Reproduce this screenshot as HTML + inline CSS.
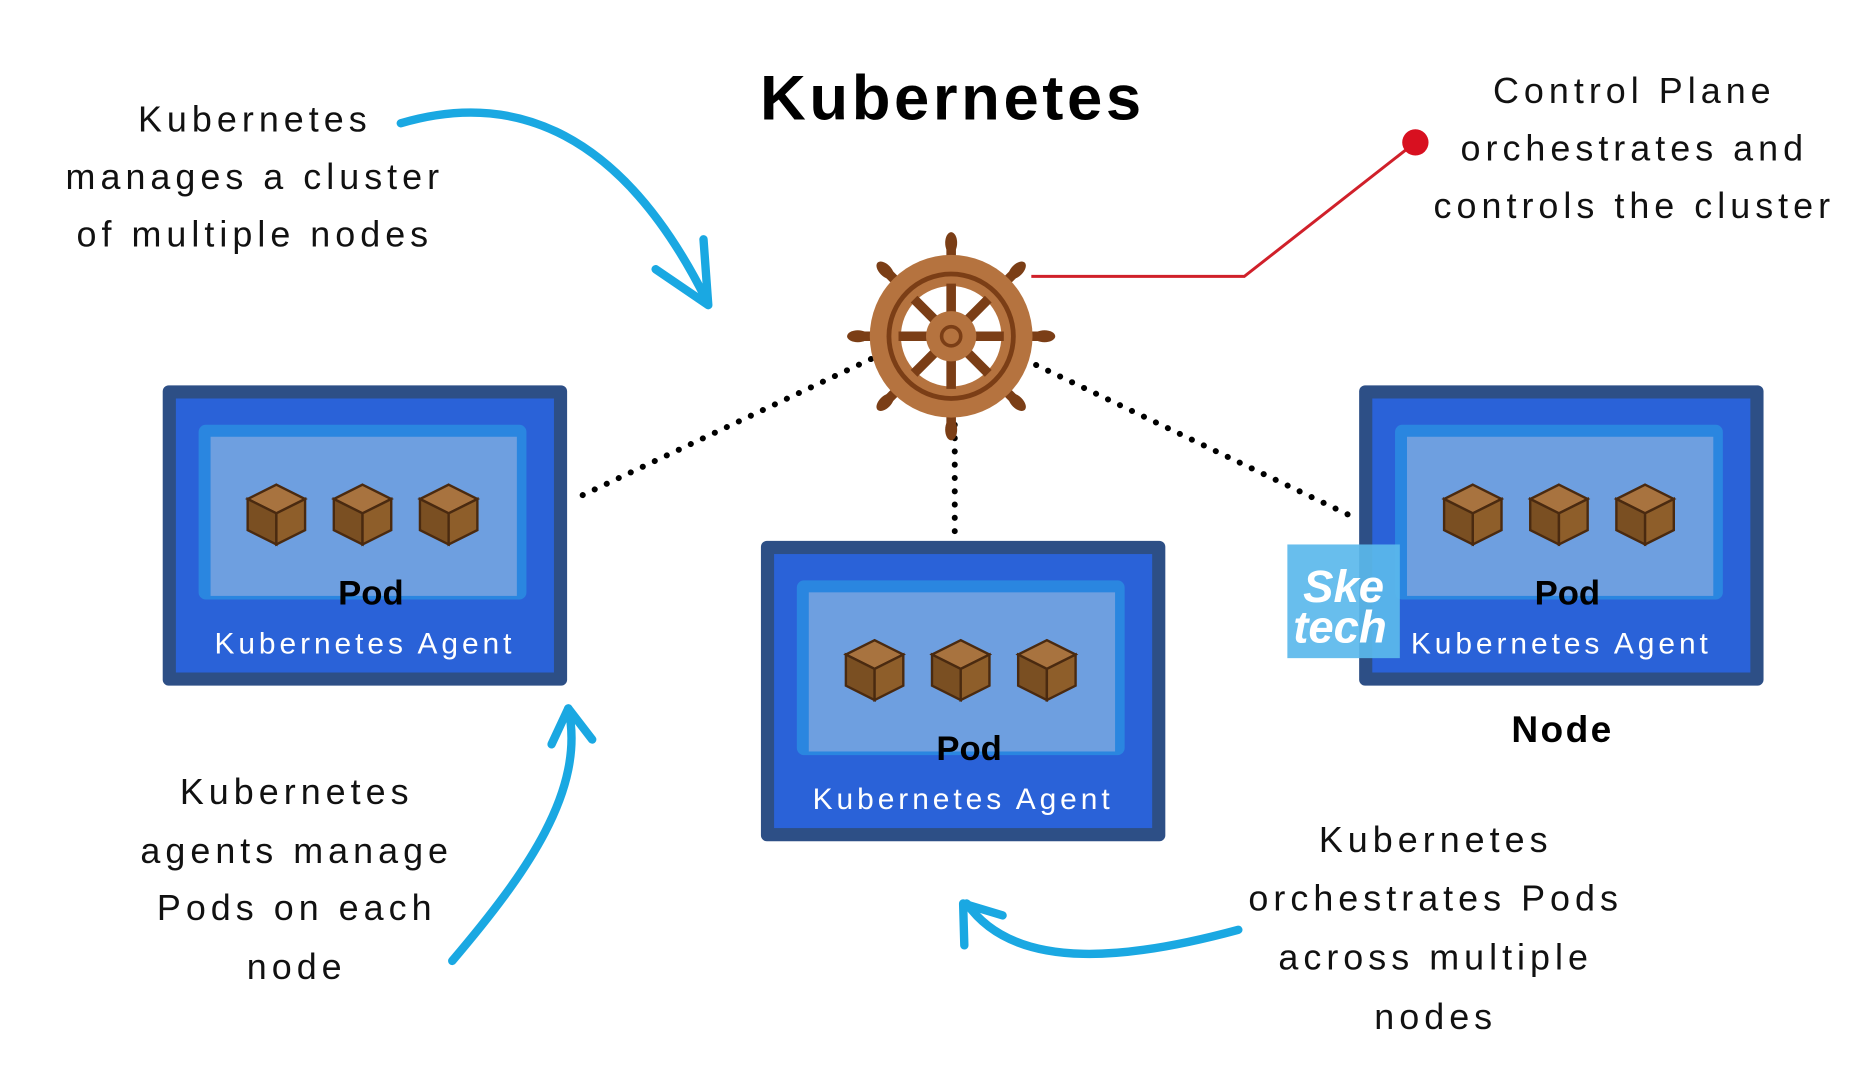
<!DOCTYPE html>
<html><head><meta charset="utf-8"><style>
html,body{margin:0;padding:0;background:#fff;width:1876px;height:1065px;overflow:hidden}
svg{display:block}
text{font-family:"Liberation Sans",sans-serif}
</style></head><body>
<svg width="1876" height="1065" viewBox="0 0 1568 890" preserveAspectRatio="none">
<defs>
<g id="cube">
<polygon points="0,-25 24,-13 0,-1 -24,-13" fill="#a8733f" stroke="#4a2a10" stroke-width="2"/>
<polygon points="-24,-13 0,-1 0,25 -24,13" fill="#7a4f22" stroke="#4a2a10" stroke-width="2"/>
<polygon points="24,-13 0,-1 0,25 24,13" fill="#8e5e2a" stroke="#4a2a10" stroke-width="2"/>
</g>
<g id="node">
<rect x="0" y="0" width="338" height="251" rx="5" fill="#2d4f86"/>
<rect x="11" y="11" width="316" height="229" fill="#2a62d8"/>
<rect x="30" y="33" width="274" height="146" rx="6" fill="#2a86e0"/>
<rect x="40" y="43" width="256" height="133" fill="#6e9fe0"/>
<use href="#cube" x="95" y="108"/>
<use href="#cube" x="167" y="108"/>
<use href="#cube" x="239" y="108"/>
<text x="174" y="183" font-size="29" font-weight="bold" text-anchor="middle" fill="#000">Pod</text>
<text x="169" y="224" font-size="25" text-anchor="middle" fill="#fff" letter-spacing="3.3">Kubernetes Agent</text>
</g>
</defs>

<text x="796" y="100" font-size="53" font-weight="bold" text-anchor="middle" letter-spacing="3">Kubernetes</text>

<g font-size="30" text-anchor="middle" letter-spacing="4.2" fill="#111">
<text x="213" y="110">Kubernetes</text>
<text x="213" y="158">manages a cluster</text>
<text x="213" y="206">of multiple nodes</text>
<text x="1366" y="86">Control Plane</text>
<text x="1366" y="134">orchestrates and</text>
<text x="1366" y="182">controls the cluster</text>
<text x="248" y="672">Kubernetes</text>
<text x="248" y="721">agents manage</text>
<text x="248" y="769">Pods on each</text>
<text x="248" y="818">node</text>
<text x="1200" y="712">Kubernetes</text>
<text x="1200" y="761">orchestrates Pods</text>
<text x="1200" y="810">across multiple</text>
<text x="1200" y="860">nodes</text>
</g>
<text x="1306" y="620" font-size="31" font-weight="bold" text-anchor="middle" letter-spacing="2">Node</text>

<g stroke="#000" stroke-width="5" stroke-linecap="round" stroke-dasharray="0.1 11" fill="none">
<line x1="728" y1="300" x2="478" y2="418"/>
<line x1="866" y1="305" x2="1133" y2="433"/>
<line x1="798" y1="355" x2="798" y2="450"/>
</g>

<polyline points="862,231 1040,231 1183,119" fill="none" stroke="#d0202a" stroke-width="2.5"/>
<circle cx="1183" cy="119" r="11" fill="#d81020"/>

<g transform="translate(795,281)" fill="#7b3e16">
<g id="h">
<rect x="-4" y="-78" width="8" height="30" rx="4"/>
<ellipse cx="0" cy="-78" rx="5" ry="9"/>
</g>
<use href="#h" transform="rotate(45)"/><use href="#h" transform="rotate(90)"/><use href="#h" transform="rotate(135)"/>
<use href="#h" transform="rotate(180)"/><use href="#h" transform="rotate(225)"/><use href="#h" transform="rotate(270)"/><use href="#h" transform="rotate(315)"/>
<circle r="68" fill="#b5733f"/>
<circle r="54" fill="#7b3e16"/>
<circle r="50" fill="#b5733f"/>
<circle r="42" fill="#fff"/>
<g stroke="#7b3e16" stroke-width="8">
<line x1="-44" y1="0" x2="44" y2="0"/><line x1="0" y1="-44" x2="0" y2="44"/>
<line x1="-31" y1="-31" x2="31" y2="31"/><line x1="31" y1="-31" x2="-31" y2="31"/>
</g>
<circle r="21" fill="#b5733f"/>
<circle r="8" fill="none" stroke="#7b3e16" stroke-width="3"/>
</g>

<use href="#node" x="136" y="322"/>
<use href="#node" x="636" y="452"/>
<use href="#node" x="1136" y="322"/>

<rect x="1076" y="455" width="94" height="95" fill="#5bb8ec" opacity="0.92"/>
<text x="1123" y="503" font-size="38" font-weight="bold" font-style="italic" text-anchor="middle" fill="#fff">Ske</text>
<text x="1120" y="537" font-size="38" font-weight="bold" font-style="italic" text-anchor="middle" fill="#fff">tech</text>

<g fill="none" stroke="#1aa8e2" stroke-width="7" stroke-linecap="round" stroke-linejoin="round">
<path d="M335,103 C430,75 520,110 590,250"/>
<path d="M548,225 L592,255 L588,200"/>
<path d="M378,803 C440,730 490,660 475,592"/>
<path d="M461,622 L475,592 L495,618"/>
<path d="M1035,777 C950,800 850,815 808,755"/>
<path d="M806,790 L805,755 L838,765"/>
</g>
</svg>
</body></html>
